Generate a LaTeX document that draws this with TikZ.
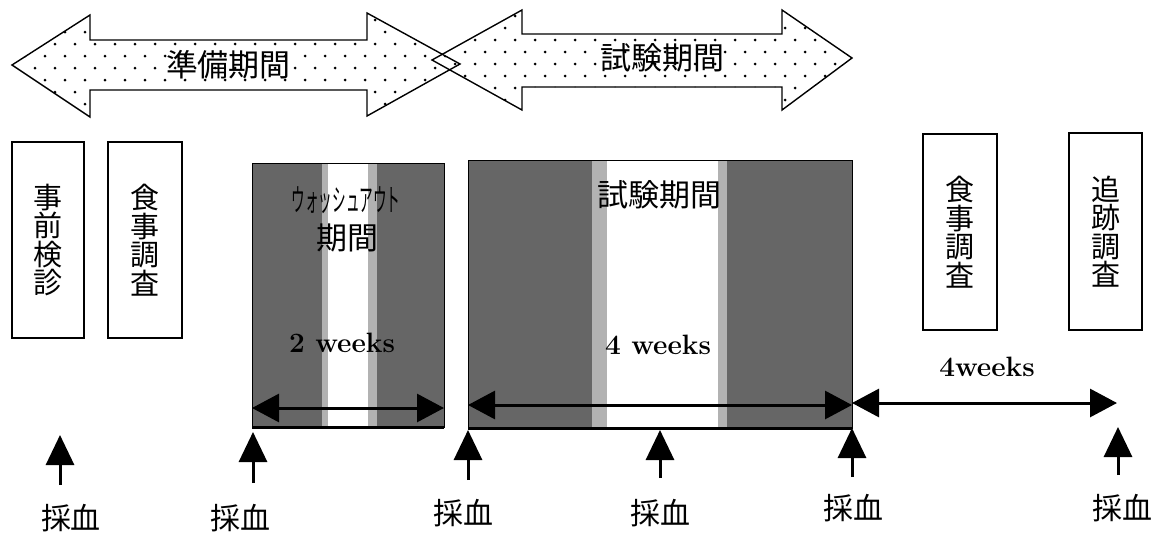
\documentclass[tikz,border=0pt]{standalone}
\usepackage{fontspec}
\usepackage{graphicx}
\newfontfamily\jp{Noto Sans CJK JP}
\usetikzlibrary{arrows.meta}
\begin{document}
\begin{tikzpicture}[x=1pt,y=-1pt,
  vbox/.style={draw, line width=1.3pt, minimum width=73pt, minimum height=196pt, inner sep=0pt,
    font=\jp\fontsize{29}{28.5}\selectfont, align=center},
  lbl/.style={font=\jp\fontsize{30}{30}\selectfont, inner sep=0pt},
  jpbig/.style={font=\jp\fontsize{31}{31}\selectfont, inner sep=0pt},
  wk/.style={font=\bfseries\fontsize{28}{28}\selectfont, inner sep=0pt},
  blood/.style={-{Triangle[length=30pt,width=28pt]}, line width=3pt},
  durarrow/.style={{Triangle[length=27pt,width=28pt]}-{Triangle[length=27pt,width=28pt]}, line width=3pt},
  darkfill/.style={fill=black!60},
  midfill/.style={fill=black!30},
  bigarrow/.style={draw, line width=1.4pt, line join=miter},
]
\useasboundingbox (0,0) rectangle (1160,533);
\fill[white] (0,0) rectangle (1160,533);

% ---- top big arrows ----
\def\arrowA{(12,65) -- (90,15) -- (90,40) -- (367,40) -- (367,13) -- (460,64) -- (367,116) -- (367,90) -- (90,90) -- (90,117) -- cycle}
\def\arrowB{(432,60) -- (522,10) -- (522,34) -- (782,34) -- (782,10) -- (852,58) -- (782,110) -- (782,87) -- (522,87) -- (522,110) -- cycle}
\fill[white] \arrowA;
\fill[white] \arrowB;
\begin{scope}
  \clip \arrowA;
  \foreach \r in {0,...,10} {\foreach \c in {0,...,24} {
    \pgfmathsetmacro{\dx}{\c*20+mod(\r,2)*10+5}
    \pgfmathsetmacro{\dy}{\r*12+8}
    \fill (\dx,\dy) circle (1.5pt);}}
\end{scope}
\begin{scope}
  \clip \arrowB;
  \foreach \r in {0,...,10} {\foreach \c in {21,...,44} {
    \pgfmathsetmacro{\dx}{\c*20+mod(\r,2)*10+5}
    \pgfmathsetmacro{\dy}{\r*12+4}
    \fill (\dx,\dy) circle (1.5pt);}}
\end{scope}
\draw[bigarrow] \arrowA;
\draw[bigarrow] \arrowB;
\node[jpbig] (prep) at (228,65) {準備期間};
\node[jpbig] (trialtop) at (662,58) {試験期間};

% ---- left boxes ----
\node[vbox, minimum width=72pt] (pre) at (48,240) {事\\前\\検\\診};
\node[vbox, minimum width=74pt] (food1) at (145,240) {食\\事\\調\\査};

% ---- washout box ----
\fill[darkfill] (252,163) rectangle (322,427);
\fill[midfill] (322,163) rectangle (328,427);
\fill[midfill] (368,163) rectangle (377,427);
\fill[darkfill] (377,163) rectangle (444,427);
\draw[line width=1pt] (252,163) rectangle (444,427);
\draw[line width=3pt] (252,427) -- (444,427);
\node[font=\jp\fontsize{31}{31}\selectfont, inner sep=0pt] (wo) at (346,200) {\scalebox{0.44}[1]{ウォッシュアウト}};
\node[jpbig] (wo2) at (347,238) {期間};
\node[wk] (w2) at (342,343) {2 weeks};
\coordinate (wl) at (252,408);
\coordinate (wr) at (444,408);
\draw[durarrow] (wl) -- (wr);

% ---- trial box ----
\fill[darkfill] (468,160) rectangle (592,428);
\fill[midfill] (592,160) rectangle (607,428);
\fill[midfill] (718,160) rectangle (727,428);
\fill[darkfill] (727,160) rectangle (852,428);
\draw[line width=1pt] (468,160) rectangle (852,428);
\draw[line width=3pt] (468,428) -- (852,428);
\node[jpbig] (trialin) at (659,195) {試験期間};
\node[wk] (w4) at (658,345) {4 weeks};
\coordinate (tl) at (468,405);
\coordinate (tr) at (852,405);
\draw[durarrow] (tl) -- (tr);

% ---- right boxes ----
\node[vbox, minimum width=74pt] (food2) at (960,232) {食\\事\\調\\査};
\node[vbox, minimum width=73pt, minimum height=197pt] (follow) at (1105.5,231.5) {追\\跡\\調\\査};
\node[wk] (w4b) at (987,367) {4weeks};
\coordinate (fl) at (852,403);
\coordinate (fr) at (1117,403);
\draw[durarrow] (fl) -- (fr);

% ---- blood sampling arrows ----
\foreach \i/\x/\ta/\hd/\lx/\ly in {1/60/485/435/71/518, 2/253/483/432/240/518, 3/468/480/430/463/513,
                                   4/660/478/430/660/513, 5/852/477/428/853/508, 6/1118/475/427/1122/508} {
  \coordinate (bt\i) at (\x,\ta);
  \coordinate (bh\i) at (\x,\hd);
  \draw[blood] (bt\i) -- (bh\i);
  \node[lbl] (s\i) at (\lx,\ly) {採血};
}
\end{tikzpicture}
\end{document}
